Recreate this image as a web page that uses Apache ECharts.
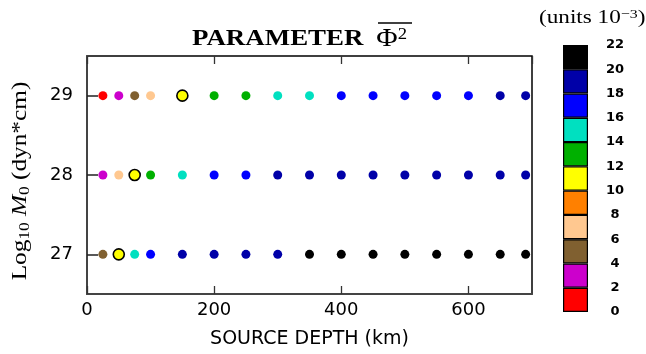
<!DOCTYPE html>
<html>
<head>
<meta charset="utf-8">
<script src="https://cdn.jsdelivr.net/npm/echarts@6/dist/echarts.min.js"></script>
<style>
  html, body { margin: 0; padding: 0; background: #fff; }
  #chart { width: 646px; height: 354px; }
</style>
</head>
<body>
<div id="chart"></div>
<script>
// Source depths (km) at which the parameter was evaluated
const depths = [25, 50, 75, 100, 150, 200, 250, 300, 350, 400, 450, 500, 550, 600, 650, 690];
// Log10 of the seismic moment for each row of points (bottom to top)
const magnitudes = ['27', '28', '29'];
// Parameter value (units 1e-3) for each depth, one list per moment
const phiM29 = [1, 3, 5, 7, 11, 13, 13, 15, 15, 17, 17, 17, 17, 17, 19, 19];
const phiM28 = [3, 7, 11, 13, 15, 17, 17, 19, 19, 19, 19, 19, 19, 19, 19, 19];
const phiM27 = [5, 11, 15, 17, 19, 19, 19, 19, 21, 21, 21, 21, 21, 21, 21, 21];
// Colour scale: bin edges and bin colours
const binEdges = [0, 2, 4, 6, 8, 10, 12, 14, 16, 18, 20, 22];
const binColors = ['#ff0000', '#cc00cc', '#806030', '#ffc890', '#ff8000', '#ffff00',
                   '#00b000', '#00e0c0', '#0000ff', '#0000a8', '#000000'];
// Depth axis range and tick spacing
const depthMin = 0, depthMax = 700, depthStep = 200;

const phiByMag = { '29': phiM29, '28': phiM28, '27': phiM27 };

const pointData = [];
magnitudes.forEach(m => {
  phiByMag[m].forEach((v, i) => {
    const ring = v >= 10 && v < 12;
    pointData.push({
      value: [depths[i], m, v],
      symbolSize: ring ? 11 : 9,
      itemStyle: ring ? { borderColor: '#000', borderWidth: 1.6 } : { borderWidth: 0 },
      z: ring ? 4 : 3
    });
  });
});

const pieces = binColors.map((c, i) => ({ gte: binEdges[i], lt: binEdges[i + 1], color: c }));

const colorbarSeries = binColors.map((c, i) => ({
  type: 'bar',
  xAxisIndex: 2,
  yAxisIndex: 1,
  stack: 'colorbar',
  barWidth: '100%',
  silent: true,
  itemStyle: { color: c, borderColor: '#000', borderWidth: 1.2 },
  data: [binEdges[i + 1] - binEdges[i]]
}));

const sans = 'DejaVu Sans';
const serif = 'Liberation Serif';

const option = {
  animation: false,
  backgroundColor: '#fff',
  grid: [
    { left: 87, right: 114, top: 56, bottom: 55,
      show: true, borderColor: '#000', borderWidth: 1.5, backgroundColor: 'transparent' },
    { left: 563, top: 45, width: 25, height: 267 }
  ],
  xAxis: [
    {
      type: 'value', gridIndex: 0, position: 'bottom',
      min: depthMin, max: depthMax, interval: depthStep,
      splitLine: { show: false },
      axisLine: { show: true, lineStyle: { color: '#444', width: 2 } },
      axisTick: { show: true, inside: true, length: 8, lineStyle: { color: '#333', width: 1.3 } },
      axisLabel: { fontFamily: sans, fontSize: 18, color: '#000', margin: 7, showMaxLabel: false },
      name: 'SOURCE DEPTH (km)', nameLocation: 'middle', nameGap: 36,
      nameTextStyle: { fontFamily: sans, fontSize: 19, color: '#000' }
    },
    {
      type: 'value', gridIndex: 0, position: 'top',
      min: depthMin, max: depthMax, interval: depthStep,
      splitLine: { show: false },
      axisLine: { show: false },
      axisTick: { show: true, inside: true, length: 8, lineStyle: { color: '#333', width: 1.3 } },
      axisLabel: { show: false }
    },
    {
      type: 'category', gridIndex: 1, data: ['scale'],
      show: false
    }
  ],
  yAxis: [
    {
      type: 'category', gridIndex: 0, position: 'left',
      data: magnitudes,
      splitLine: { show: false },
      axisLine: { show: true, lineStyle: { color: '#444', width: 2 } },
      axisTick: { show: true, inside: true, length: 11, alignWithLabel: true,
                  lineStyle: { color: '#222', width: 1.5 } },
      axisLabel: { fontFamily: sans, fontSize: 18, color: '#000', margin: 14 }
    },
    {
      type: 'value', gridIndex: 1, position: 'right',
      min: binEdges[0], max: binEdges[binEdges.length - 1], interval: 2,
      splitLine: { show: false },
      axisLine: { show: false },
      axisTick: { show: false },
      axisLabel: { fontFamily: sans, fontWeight: 'bold', fontSize: 13, color: '#000',
                   margin: 27, align: 'center' }
    }
  ],
  visualMap: {
    type: 'piecewise', show: false, dimension: 2, seriesIndex: 0,
    pieces: pieces
  },
  series: [
    {
      type: 'scatter', xAxisIndex: 0, yAxisIndex: 0,
      symbol: 'circle',
      itemStyle: { opacity: 1 },
      data: pointData
    }
  ].concat(colorbarSeries),
  graphic: [
    {
      type: 'text', x: 192, y: 39, scaleX: 1.17,
      style: {
        text: '{t|PARAMETER}{p|Φ}{s|2}',
        verticalAlign: 'middle',
        rich: {
          t: { fontFamily: serif, fontWeight: 'bold', fontSize: 23, fill: '#000' },
          p: { fontFamily: serif, fontSize: 25, fill: '#000', padding: [0, 0, 0, 11] },
          s: { fontFamily: serif, fontSize: 16, fill: '#000', verticalAlign: 'top' }
        }
      }
    },
    {
      type: 'line',
      shape: { x1: 378, y1: 23, x2: 412, y2: 23 },
      style: { stroke: '#000', lineWidth: 1.5 }
    },
    {
      type: 'text', x: 539, y: 18, scaleX: 1.22,
      style: {
        text: '{a|(units 10}{s|−3}{a|)}',
        verticalAlign: 'middle',
        rich: {
          a: { fontFamily: serif, fontSize: 19, fill: '#000' },
          s: { fontFamily: serif, fontSize: 13, fill: '#000', verticalAlign: 'top' }
        }
      }
    },
    {
      type: 'text', x: 20, y: 181, rotation: Math.PI / 2, scaleX: 1.15,
      style: {
        text: '{r|Log}{b|10}{r| }{i|M}{b|0}{r| (dyn*cm)}',
        align: 'center',
        verticalAlign: 'middle',
        rich: {
          r: { fontFamily: serif, fontSize: 22, fill: '#000', lineHeight: 26 },
          i: { fontFamily: serif, fontSize: 22, fontStyle: 'italic', fill: '#000', lineHeight: 26 },
          b: { fontFamily: serif, fontSize: 15, fill: '#000', verticalAlign: 'bottom', lineHeight: 15 }
        }
      }
    }
  ]
};

const chart = echarts.init(document.getElementById('chart'), null, { renderer: 'canvas' });
chart.setOption(option);
</script>
</body>
</html>
